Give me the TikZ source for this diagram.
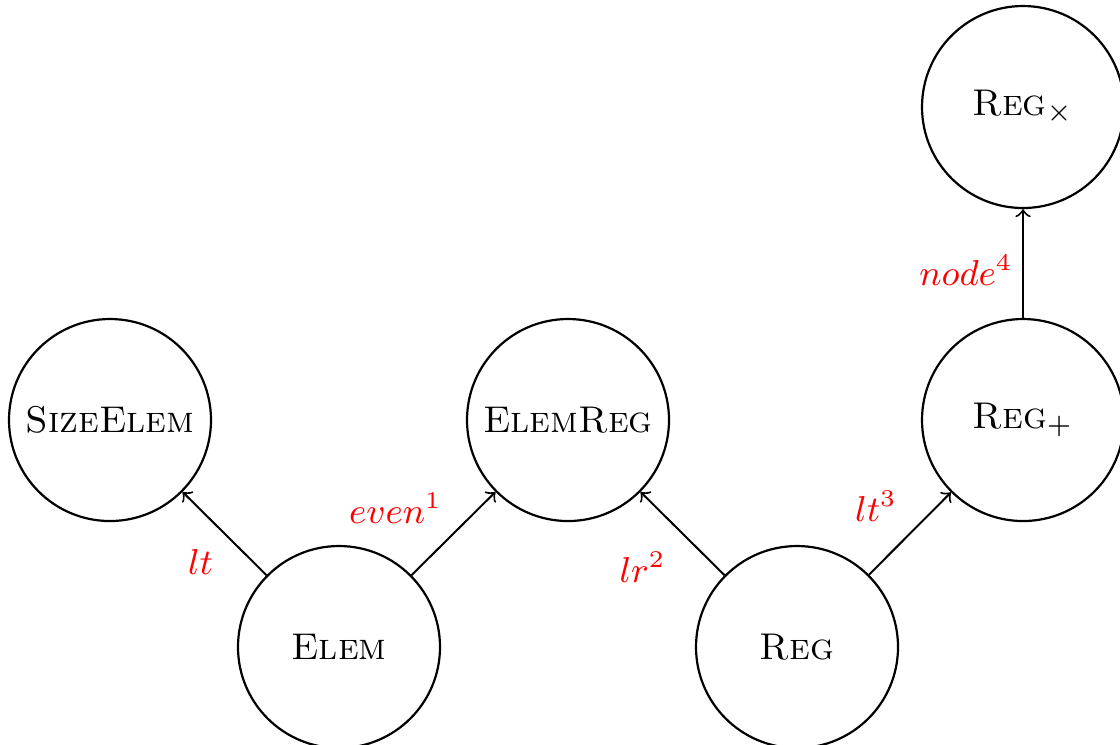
\documentclass[tikz,border=0pt]{standalone}
\begin{document}
\begin{tikzpicture}[x=0.25pt,y=-0.25pt,
  st/.style={circle,draw,line width=0.55pt,minimum size=50.5pt,inner sep=0pt,font=\fontsize{9.3}{11}\selectfont},
  ed/.style={->,line width=0.5pt},
  lab/.style={text=red,font=\fontsize{9}{11}\selectfont,inner sep=0pt}]
\useasboundingbox (0,0) rectangle (1120,744);
\node[st] (sizeelem) at (110,420) {\textsc{SizeElem}};
\node[st] (elem) at (339,647) {\textsc{Elem}};
\node[st] (elemreg) at (568,420) {\textsc{ElemReg}};
\node[st] (reg) at (797,647) {\textsc{Reg}};
\node[st] (regplus) at (1023,420) {$\textsc{Reg}_{+}$};
\node[st] (regtimes) at (1023,107) {$\textsc{Reg}_{\times}$};
\draw[ed] (elem) -- node[lab,shift={(-24,28)}] {$lt$} (sizeelem);
\draw[ed] (elem) -- node[lab,shift={(-58,-25)}] {$even^1$} (elemreg);
\draw[ed] (reg) -- node[lab,shift={(-40,34)}] {$lr^2$} (elemreg);
\draw[ed] (reg) -- node[lab,shift={(-34,-27)}] {$lt^3$} (regplus);
\draw[ed] (regplus) -- node[lab,shift={(-57,7)}] {$node^4$} (regtimes);
\end{tikzpicture}
\end{document}
